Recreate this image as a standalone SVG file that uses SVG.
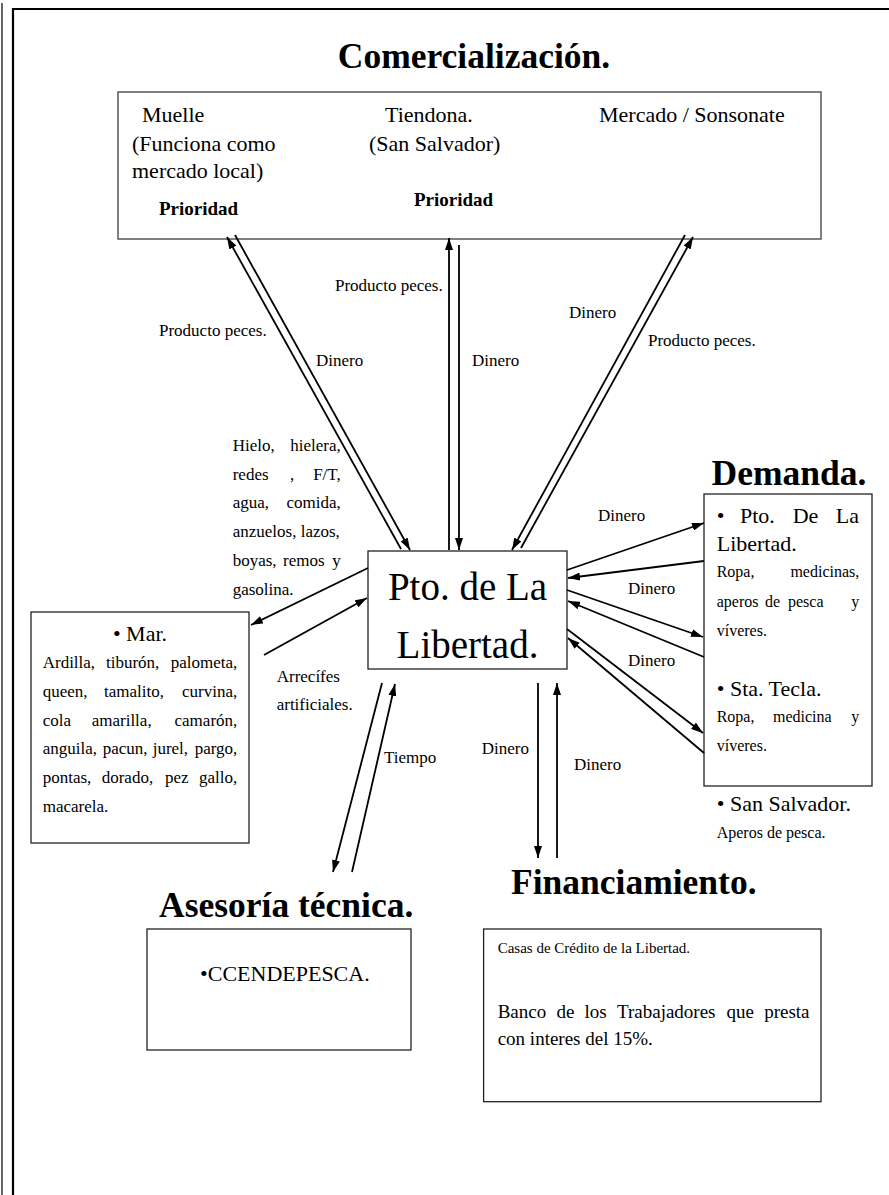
<svg xmlns="http://www.w3.org/2000/svg" width="889" height="1195" viewBox="0 0 889 1195">
<style>
text{font-family:"Liberation Serif","Times New Roman",serif;fill:#000}
.t{font-size:35.5px;font-weight:bold}
.m{font-size:22px}
.s{font-size:17px}
.d{font-size:16px}
.p{font-size:19px;font-weight:bold}
.box{fill:#fff;stroke:#222;stroke-width:1.3}
.c{stroke:#000;stroke-width:1.8;fill:none;marker-end:url(#ah)}
</style>
<defs>
<marker id="ah" viewBox="0 0 12 8" refX="12" refY="4" markerWidth="12" markerHeight="8" markerUnits="userSpaceOnUse" orient="auto"><path d="M0,0 L12,4 L0,8 z" fill="#000"/></marker>
</defs>
<rect width="889" height="1195" fill="#fff"/>
<g id="frame">
<line x1="2" y1="3" x2="2" y2="1195" stroke="#666" stroke-width="2"/>
<path d="M13,1195 V9 H889" stroke="#000" stroke-width="2.2" fill="none"/>
</g>
<g id="comercializacion">
<text class="t" x="474" y="68" text-anchor="middle">Comercialización.</text>
<rect x="118" y="92" width="703" height="147" fill="#fff" stroke="#555" stroke-width="1.5"/>
<text class="m" x="142" y="122">Muelle</text>
<text class="m" x="132" y="151">(Funciona como</text>
<text class="m" x="132" y="178">mercado local)</text>
<text class="p" x="159" y="215">Prioridad</text>
<text class="m" x="385" y="122">Tiendona.</text>
<text class="m" x="369" y="151">(San Salvador)</text>
<text class="p" x="414" y="206">Prioridad</text>
<text class="m" x="599" y="122">Mercado / Sonsonate</text>
</g>
<g id="pto">
<rect class="box" x="368" y="551" width="199" height="118"/>
<text x="467.5" y="600" text-anchor="middle" style="font-size:39px">Pto. de La</text>
<text x="467.5" y="658" text-anchor="middle" style="font-size:39px">Libertad.</text>
</g>
<g id="insumos">
<text class="s" y="451"><tspan x="232.7">Hielo,</tspan><tspan x="340.7" text-anchor="end">hielera,</tspan></text>
<text class="s" y="480"><tspan x="232.7">redes</tspan><tspan x="290">,</tspan><tspan x="340.7" text-anchor="end">F/T,</tspan></text>
<text class="s" y="508"><tspan x="232.7">agua,</tspan><tspan x="340.7" text-anchor="end">comida,</tspan></text>
<text class="s" x="232.7" y="537">anzuelos, lazos,</text>
<text class="s" y="566"><tspan x="232.7">boyas,</tspan><tspan x="283">remos</tspan><tspan x="340.7" text-anchor="end">y</tspan></text>
<text class="s" x="232.7" y="595">gasolina.</text>
</g>
<g id="mar">
<rect class="box" x="31" y="612" width="218" height="231"/>
<text class="m" x="140" y="641" text-anchor="middle">• Mar.</text>
<text class="s" y="668"><tspan x="42.7">Ardilla,</tspan><tspan x="106">tiburón,</tspan><tspan x="237.3" text-anchor="end">palometa,</tspan></text>
<text class="s" y="697"><tspan x="42.7">queen,</tspan><tspan x="104">tamalito,</tspan><tspan x="237.3" text-anchor="end">curvina,</tspan></text>
<text class="s" y="726"><tspan x="42.7">cola</tspan><tspan x="91.7">amarilla,</tspan><tspan x="237.3" text-anchor="end">camarón,</tspan></text>
<text class="s" y="754"><tspan x="42.7">anguila,</tspan><tspan x="102.7">pacun,</tspan><tspan x="152.7">jurel,</tspan><tspan x="237.3" text-anchor="end">pargo,</tspan></text>
<text class="s" y="783"><tspan x="42.7">pontas,</tspan><tspan x="101.7">dorado,</tspan><tspan x="165">pez</tspan><tspan x="237.3" text-anchor="end">gallo,</tspan></text>
<text class="s" x="42.7" y="812">macarela.</text>
</g>
<g id="demanda">
<text class="t" x="711.6" y="485">Demanda.</text>
<rect class="box" x="704" y="494" width="168" height="292"/>
<text class="m" y="523"><tspan x="716.7">•</tspan><tspan x="740">Pto.</tspan><tspan x="792.7">De</tspan><tspan x="859" text-anchor="end">La</tspan></text>
<text class="m" x="716.7" y="551">Libertad.</text>
<text class="d" y="577"><tspan x="716.7">Ropa,</tspan><tspan x="859.3" text-anchor="end">medicinas,</tspan></text>
<text class="d" y="607"><tspan x="716.7">aperos</tspan><tspan x="765">de</tspan><tspan x="788">pesca</tspan><tspan x="859.3" text-anchor="end">y</tspan></text>
<text class="d" x="716.7" y="636">víveres.</text>
<text class="m" x="716.7" y="696">• Sta. Tecla.</text>
<text class="d" y="722"><tspan x="716.7">Ropa,</tspan><tspan x="773">medicina</tspan><tspan x="859.3" text-anchor="end">y</tspan></text>
<text class="d" x="716.7" y="751">víveres.</text>
<text class="m" x="716.7" y="811">• San Salvador.</text>
<text class="d" x="716.7" y="838">Aperos de pesca.</text>
</g>
<g id="asesoria">
<text class="t" x="159" y="917">Asesoría técnica.</text>
<rect class="box" x="147" y="929" width="264" height="121"/>
<text class="m" x="200" y="981">•CCENDEPESCA.</text>
</g>
<g id="financiamiento">
<text class="t" x="511" y="894">Financiamiento.</text>
<rect class="box" x="483.6" y="929" width="337.4" height="172.7"/>
<text x="497.7" y="953" style="font-size:15px">Casas de Crédito de la Libertad.</text>
<text y="1018" style="font-size:19px"><tspan x="497.7">Banco</tspan><tspan x="556.4">de</tspan><tspan x="584.6">los</tspan><tspan x="617">Trabajadores</tspan><tspan x="726.5">que</tspan><tspan x="809.5" text-anchor="end">presta</tspan></text>
<text x="497.7" y="1045" style="font-size:19px">con interes del 15%.</text>
</g>
<g id="connectors">
<line class="c" x1="401" y1="549" x2="227" y2="237"/>
<line class="c" x1="235" y1="235" x2="410" y2="550"/>
<line class="c" x1="449" y1="550" x2="449" y2="238"/>
<line class="c" x1="459" y1="245" x2="459" y2="550"/>
<line class="c" x1="685" y1="235" x2="512" y2="550"/>
<line class="c" x1="521" y1="548" x2="693" y2="237"/>
<line class="c" x1="368" y1="568" x2="251" y2="625"/>
<line class="c" x1="264" y1="655" x2="367" y2="598"/>
<line class="c" x1="382" y1="683" x2="333" y2="872"/>
<line class="c" x1="352" y1="872" x2="395" y2="684"/>
<line class="c" x1="538" y1="683" x2="538" y2="858"/>
<line class="c" x1="557" y1="858" x2="557" y2="683"/>
<line class="c" x1="567" y1="570" x2="704" y2="523"/>
<line class="c" x1="704" y1="561" x2="568" y2="578"/>
<line class="c" x1="567" y1="590" x2="703" y2="637"/>
<line class="c" x1="704" y1="657" x2="568" y2="601"/>
<line class="c" x1="567" y1="629" x2="703" y2="733"/>
<line class="c" x1="704" y1="753" x2="568" y2="638"/>
</g>
<g id="labels">
<text class="s" x="159" y="336">Producto peces.</text>
<text class="s" x="316" y="366">Dinero</text>
<text class="s" x="335" y="291">Producto peces.</text>
<text class="s" x="472" y="366">Dinero</text>
<text class="s" x="569" y="318">Dinero</text>
<text class="s" x="648" y="346">Producto peces.</text>
<text class="s" x="276.7" y="682">Arrecífes</text>
<text class="s" x="276.7" y="710">artificiales.</text>
<text class="s" x="384" y="763">Tiempo</text>
<text class="s" x="481.7" y="754">Dinero</text>
<text class="s" x="574" y="770">Dinero</text>
<text class="s" x="598" y="521">Dinero</text>
<text class="s" x="628" y="594">Dinero</text>
<text class="s" x="628" y="666">Dinero</text>
</g>
</svg>
